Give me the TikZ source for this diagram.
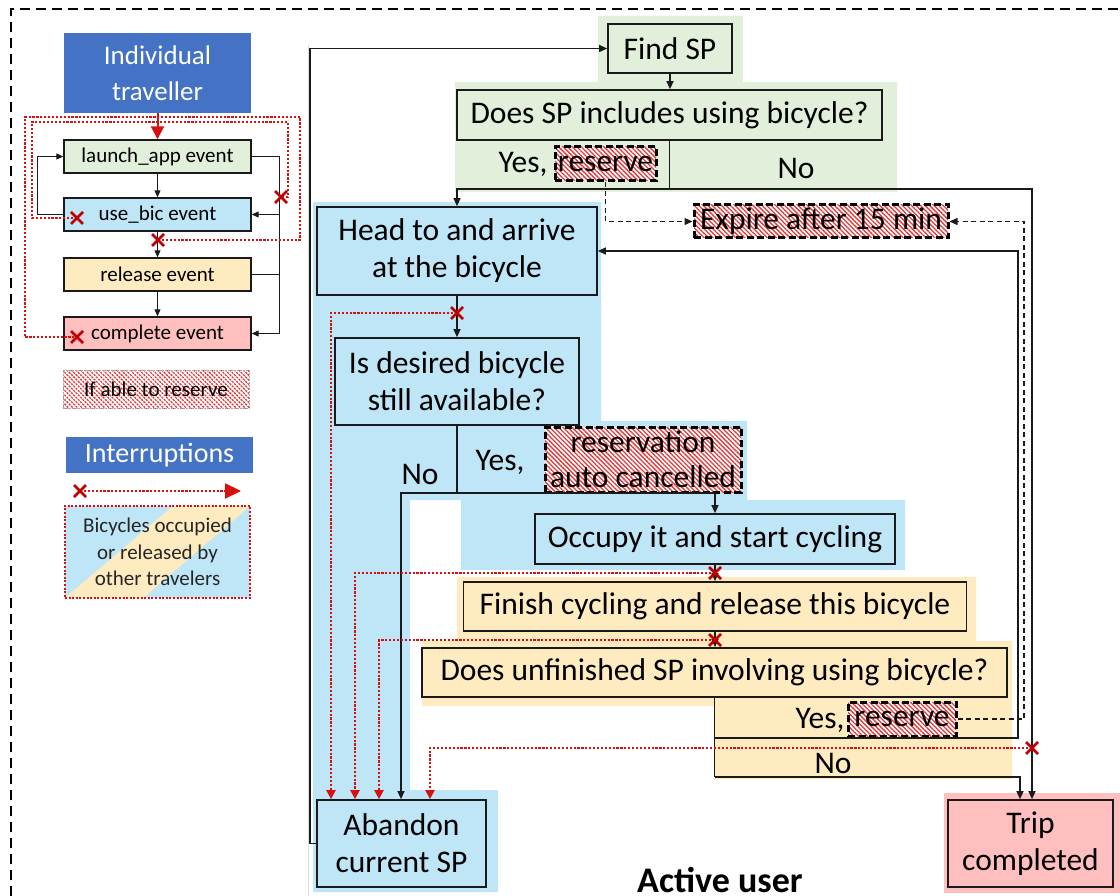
\documentclass[tikz,border=0pt]{standalone}
\usepackage{fontspec}
\setmainfont{Carlito}
\usetikzlibrary{arrows.meta,patterns.meta}
\definecolor{hdrblue}{HTML}{4472C4}
\definecolor{lgreen}{HTML}{E2EFDA}
\definecolor{lblue}{HTML}{BEE6F7}
\definecolor{lyellow}{HTML}{FFEBC0}
\definecolor{lpink}{HTML}{FFBFBF}
\definecolor{xred}{HTML}{C00000}
\definecolor{dotred}{HTML}{D81010}
\definecolor{hatchc}{HTML}{DD3B3B}
\definecolor{linec}{HTML}{1A1A1A}
\definecolor{divgray}{HTML}{DDDDDD}
\newcommand\mainfs{\fontsize{31.5}{37}\selectfont}
\newcommand\smallfs{\fontsize{21}{26}\selectfont}
\newcommand\hdrfs{\fontsize{27}{36}\selectfont}
\newcommand\legfs{\fontsize{21}{26.5}\selectfont}
\begin{document}
\begin{tikzpicture}[x=1pt,y=-1pt,
  mbox/.style={draw=linec,line width=1.7pt,inner sep=0pt,align=center,font=\mainfs},
  sbox/.style={draw=linec,line width=1.4pt,inner sep=0pt,align=center,font=\smallfs},
  hdr/.style={fill=hdrblue,inner sep=0pt,align=center,text=white,font=\hdrfs},
  hatch/.style={preaction={fill=white},pattern={Lines[angle=-45,distance=3.2pt,line width=1.3pt]},pattern color=hatchc},
  resv/.style={hatch,draw=black,line width=3pt,dash pattern=on 7pt off 3.5pt,inner sep=0pt,align=center,font=\mainfs},
  lbl/.style={inner sep=0pt,font=\mainfs},
  arr/.style={draw=linec,line width=1.3pt,-{Triangle[length=8pt,width=7pt]}},
  plain/.style={draw=linec,line width=1.3pt},
  darr/.style={draw=linec,line width=1.2pt,dash pattern=on 5pt off 3.5pt,-{Triangle[length=8pt,width=7pt]}},
  larr/.style={draw=linec,line width=1pt,-{Triangle[length=7pt,width=6pt]}},
  lplain/.style={draw=linec,line width=1pt},
  intr/.style={draw=dotred,line width=2.2pt,dash pattern=on 2.2pt off 1.7pt},
  intra/.style={intr,-{Triangle[length=9pt,width=9pt]}},
  xm/.pic={\draw[xred,line width=2.6pt] (-6,-6) -- (6,6) (-6,6) -- (6,-6);},
]
\useasboundingbox (0,0) rectangle (1120,896);
% outer dashed frame and the divider of the key
\draw[line width=1.5pt,dash pattern=on 10pt off 6pt] (11,896) -- (11,9) -- (1120,9);
\draw[divgray,line width=1pt] (308,45) -- (308,896);

% coloured phase backgrounds
\fill[lgreen] (598,16) -- (743,16) -- (743,82) -- (897,82) -- (897,192) -- (455,192) -- (455,82) -- (598,82) -- cycle;
\fill[lblue] (313,202) -- (601,202) -- (601,421) -- (747,421) -- (747,500) -- (905,500) -- (905,570) -- (461,570) -- (461,500) -- (410,500) -- (410,790) -- (498,790) -- (498,892) -- (313,892) -- cycle;
\fill[lyellow] (457,577) -- (976,577) -- (976,641) -- (1012,641) -- (1012,779) -- (715,779) -- (715,706) -- (422,706) -- (422,641) -- (457,641) -- cycle;
\fill[lpink] (944,793) rectangle (1120,893);

% ---------- key: individual traveller ----------
\node[hdr,minimum width=187pt,minimum height=80pt] (trav) at (157.5,73) {Individual\\traveller};
\node[sbox,fill=lgreen,minimum width=187pt,minimum height=33pt] (launch) at (157.5,156.5) {launch\_app event};
\node[sbox,fill=lblue,minimum width=187pt,minimum height=33pt] (usebic) at (157.5,214.5) {use\_bic event};
\node[sbox,fill=lyellow,minimum width=187pt,minimum height=33pt] (release) at (157.5,274.5) {release event};
\node[sbox,fill=lpink,minimum width=187pt,minimum height=33pt] (complete) at (157.5,333.5) {complete event};

\draw[larr] (launch.south) -- (usebic.north);
\draw[larr] (usebic.south) -- (release.north);
\draw[larr] (release.south) -- (complete.north);
\draw[larr] (usebic.west) -- (37,214.5) |- (launch.west);
\draw[larr] (launch.east) -- (279,156.5) |- (complete.east);
\coordinate (rj) at (279,214.5);
\draw[larr] (rj) -- (usebic.east);
\draw[lplain] (release.east) -- (279,274.5);

\coordinate (ix1) at (77,218);
\coordinate (ix2) at (281,197);
\coordinate (ix3) at (158,240);
\coordinate (ix4) at (77,337);
\draw[intr] (ix1) -- (32,218) -- (32,122) -- (288,122) -- (288,197) -- (ix2);
\draw[intr] (ix3) -- (300,240) -- (300,117) -- (25,117) -- (25,337) -- (ix4);
\draw[dotred,line width=2pt,-{Triangle[length=13pt,width=13pt]}] (trav.south) -- (launch.north);
\pic at (ix1) {xm};
\pic at (ix2) {xm};
\pic at (ix3) {xm};
\pic at (ix4) {xm};

\node[hatch,draw=gray!70,line width=0.8pt,dash pattern=on 2pt off 1pt,inner sep=0pt,font=\smallfs,minimum width=186pt,minimum height=38pt] (able) at (156,389) {If able to reserve};

% ---------- key: interruptions ----------
\node[hdr,font=\fontsize{28}{34}\selectfont,minimum width=187pt,minimum height=36pt] (intrhdr) at (159.5,455) {Interruptions};
\coordinate (lx) at (80,491);
\coordinate (lend) at (241,491);
\draw[intr,-{Triangle[length=16pt,width=15pt]}] (lx) -- (lend);
\pic at (lx) {xm};
\fill[lblue] (65,506) rectangle (250,598);
\fill[lyellow] (65,598) -- (143,598) -- (250,506) -- (173,506) -- cycle;
\node[draw=dotred,line width=2pt,dash pattern=on 2pt off 1.6pt,inner sep=0pt,minimum width=185pt,minimum height=92pt,align=center,font=\legfs,text=black!85] (bikes) at (157.5,552) {Bicycles occupied\\or released by\\other travelers};

% ---------- active user flow ----------
\node[mbox,fill=lgreen,minimum width=124pt,minimum height=49pt] (find) at (670,48.5) {Find SP};
\node[mbox,fill=lgreen,minimum width=425pt,minimum height=50pt] (does) at (669.5,115) {Does SP includes using bicycle?};
\node[resv,minimum width=101pt,minimum height=34pt] (res1) at (605.5,164) {reserve};
\node[resv,minimum width=254pt,minimum height=33pt] (expire) at (821,221.5) {Expire after 15 min};
\node[mbox,fill=lblue,minimum width=280pt,minimum height=88pt] (head) at (457,251) {Head to and arrive\\at the bicycle};
\node[mbox,fill=lblue,minimum width=244pt,minimum height=87pt] (avail) at (457,381.5) {Is desired bicycle\\still available?};
\node[resv,font=\fontsize{31.5}{35}\selectfont,minimum width=196pt,minimum height=65pt] (cancel) at (643,459.5) {reservation\\auto cancelled};
\node[mbox,fill=lblue,minimum width=360pt,minimum height=50pt] (occupy) at (715,539) {Occupy it and start cycling};
\node[mbox,fill=lyellow,minimum width=503pt,minimum height=49pt] (finish) at (715,606.5) {Finish cycling and release this bicycle};
\node[mbox,fill=lyellow,minimum width=585pt,minimum height=49pt] (unfin) at (714.5,672.5) {Does unfinished SP involving using bicycle?};
\node[resv,minimum width=108pt,minimum height=34pt] (res2) at (902,719) {reserve};
\node[mbox,fill=lblue,minimum width=169pt,minimum height=87pt] (aband) at (401.5,843.5) {Abandon\\current SP};
\node[mbox,fill=lpink,minimum width=165pt,minimum height=87pt] (trip) at (1030.5,843.5) {Trip\\completed};

\node[lbl] (yes1) at (523,164) {Yes,};
\node[lbl] (no1) at (796,169) {No};
\node[lbl] (no2) at (420,475) {No};
\node[lbl] (yes2) at (500,462) {Yes,};
\node[lbl] (yes3) at (820,720) {Yes,};
\node[lbl] (no3) at (833,763) {No};
\node[font=\fontsize{36}{40}\selectfont\bfseries,anchor=base] (title) at (720,892) {Active user};

% decision branches
\coordinate (j1) at (669.5,189);
\draw[plain] (does.south) -- (j1);
\draw[arr] (j1) -| (head.north);
\draw[arr] (j1) -| ([xshift=1.5pt]trip.north);
\draw[arr] (find.south) -- (find.south |- does.north);
\draw[darr] (res1.south) |- (expire.west);
\draw[darr] (res2.east) -- (1024,719) |- (expire.east);

\coordinate (j2) at (714.5,738);
\coordinate (j3) at (714.5,777);
\draw[plain] (unfin.south) -- (j3);
\draw[arr] (j2) -- (1018,738) |- (head.east);
\draw[arr] (j3) -| ([xshift=-10.5pt]trip.north);

\draw[arr] (head.south) -- (avail.north);
\coordinate (j4) at (457,493);
\draw[plain] (avail.south) -- (j4);
\draw[arr] (j4) -| (occupy.north);
\draw[arr] (j4) -| ([xshift=-0.5pt]aband.north);
\draw[arr] (occupy.south) -- (finish.north);
\draw[arr] (finish.south) -- (finish.south |- unfin.north);
\draw[arr] (aband.west) -- (310,843.5) |- (find.west);

% interruptions of the active user
\coordinate (i1) at (457,313);
\coordinate (i2) at (715,573);
\coordinate (i3) at (715,640);
\coordinate (i4) at (1032,748);
\draw[intra] (i1) -| ([xshift=-70.5pt]aband.north);
\draw[intra] (i2) -| ([xshift=-46.5pt]aband.north);
\draw[intra] (i3) -| ([xshift=-22.5pt]aband.north);
\draw[intra] (i4) -| ([xshift=28.5pt]aband.north);
\pic at (i1) {xm};
\pic at (i2) {xm};
\pic at (i3) {xm};
\pic at (i4) {xm};
\end{tikzpicture}
\end{document}
